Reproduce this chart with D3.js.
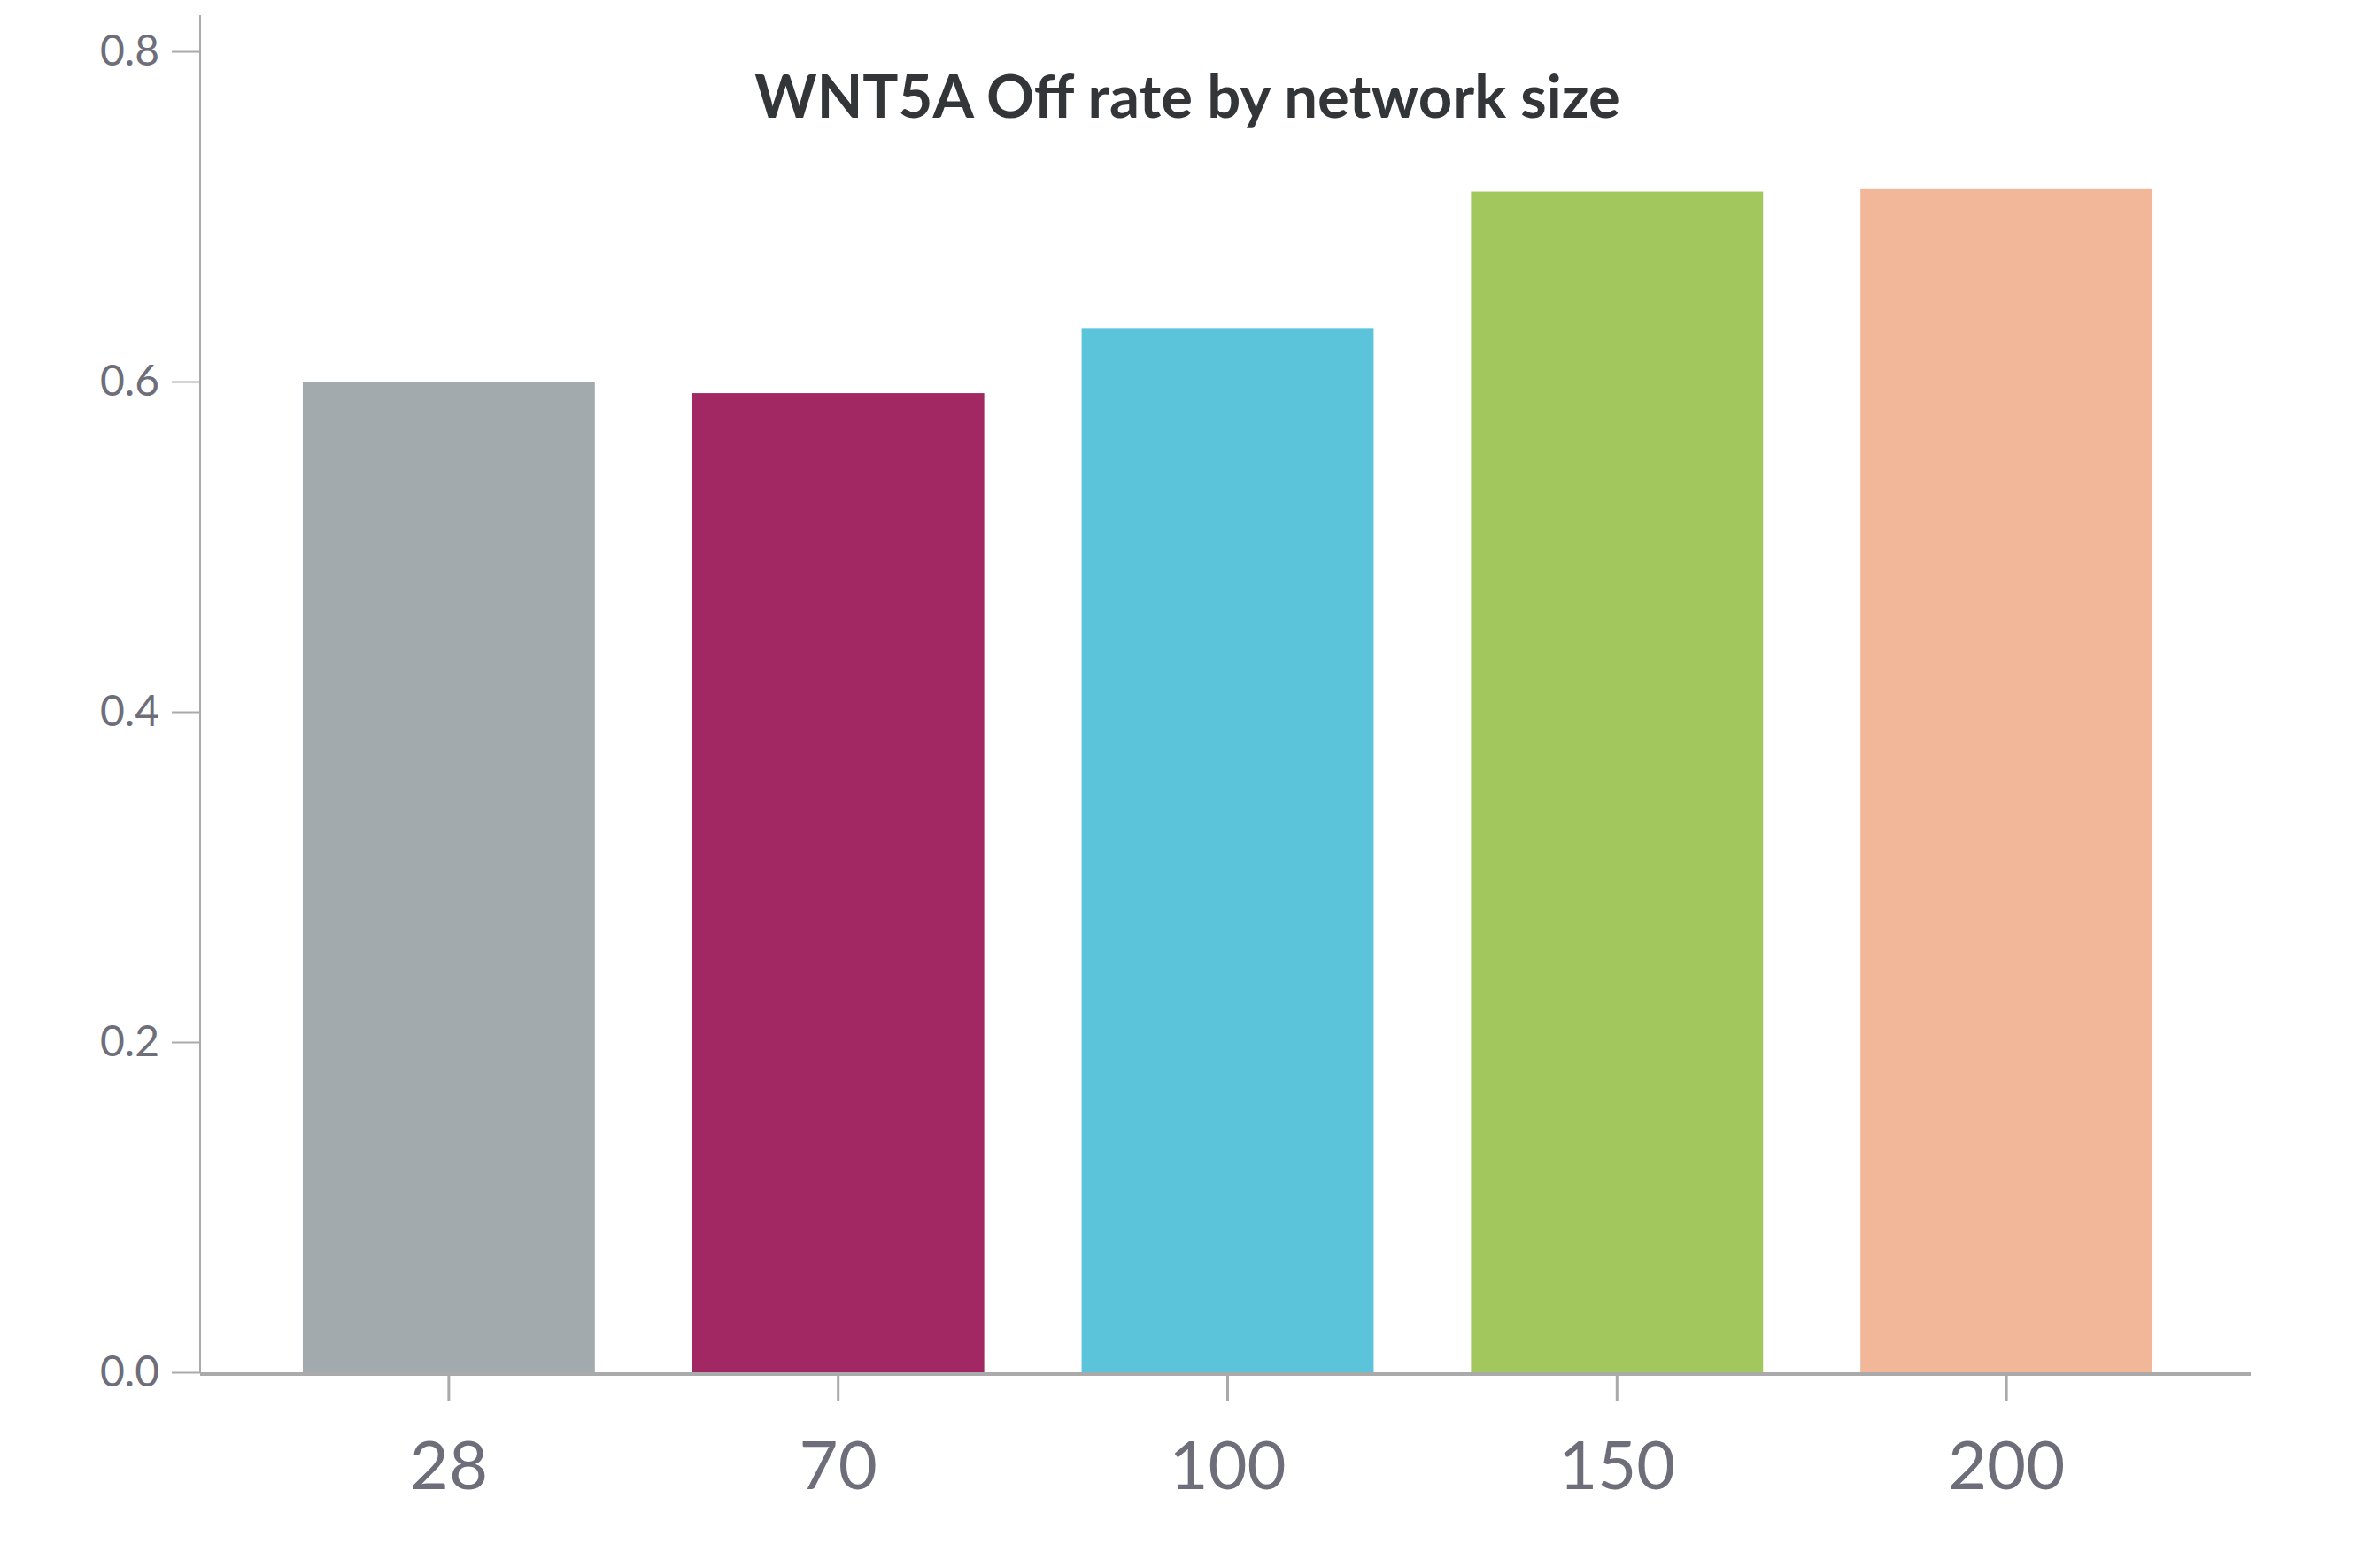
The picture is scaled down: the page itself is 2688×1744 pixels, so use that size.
<!DOCTYPE html>
<html>
<head>
<meta charset="utf-8">
<script src="https://cdn.jsdelivr.net/npm/d3@7"></script>
<style>
  body { margin: 0; background: #fff; }
  text { font-family: Lato, "Open Sans", sans-serif; }
</style>
</head>
<body>
<div id="chart"></div>
<script>
var canvasWidth = 2688;
var canvasHeight = 1744;

// data
var sizes = ["28", "70", "100", "150", "200"];
var offRate = [0.600, 0.593, 0.632, 0.715, 0.717];
var barColors = ["#a2aaad", "#a12862", "#5bc4da", "#a1c75d", "#f1b798"];
var yTicks = [0, 0.2, 0.4, 0.6, 0.8];
var title = "WNT5A Off rate by network size";

var data = sizes.map(function(s, i) { return {size: s, value: offRate[i]}; });

var plotLeft = 226, plotRight = 2542, plotTop = 17, plotBottom = 1550;

var svg = d3.select("#chart")
    .append("svg")
    .attr("width", canvasWidth)
    .attr("height", canvasHeight);

var xScale = d3.scaleBand()
    .domain(sizes)
    .range([232, 2541])
    .paddingInner(0.25)
    .paddingOuter(0.25);

var yScale = d3.scaleLinear()
    .domain([0, 0.822])
    .range([plotBottom, plotTop]);

var color = d3.scaleOrdinal().domain(sizes).range(barColors);

/*bars*/
svg.append("g")
    .selectAll("rect")
    .data(data)
    .join("rect")
    .attr("x", function(d) { return xScale(d.size); })
    .attr("y", function(d) { return yScale(d.value); })
    .attr("width", xScale.bandwidth())
    .attr("height", function(d) { return plotBottom - yScale(d.value); })
    .attr("fill", function(d) { return color(d.size); });

/*Y axis*/
var yAxis = svg.append("g")
    .attr("transform", "translate(" + plotLeft + ",0)")
    .call(d3.axisLeft(yScale).tickValues(yTicks).tickFormat(d3.format(".1f")).tickSize(32).tickPadding(14));
yAxis.select(".domain").attr("stroke", "#aaaaaa").attr("stroke-width", 2)
    .attr("d", "M0," + plotTop + "V" + plotBottom);
yAxis.selectAll(".tick line").attr("stroke", "#aaaaaa").attr("stroke-width", 2);
yAxis.selectAll(".tick text")
    .attr("fill", "#6e6e7a")
    .style("font-size", "48px")
    .style("font-weight", 400);

/*X axis*/
var xAxis = svg.append("g")
    .attr("transform", "translate(0," + plotBottom + ")")
    .call(d3.axisBottom(xScale).tickSize(32).tickPadding(46));
xAxis.select(".domain").attr("stroke", "#aaaaaa").attr("stroke-width", 4)
    .attr("d", "M" + plotLeft + ",2H" + plotRight);
xAxis.selectAll(".tick line").attr("stroke", "#aaaaaa").attr("stroke-width", 3).attr("y1", 4);
xAxis.selectAll(".tick text")
    .attr("fill", "#6e6e7a")
    .style("font-size", "76px")
    .style("font-weight", 400);

/*title*/
svg.append("text")
    .attr("x", 1341)
    .attr("y", 133)
    .attr("text-anchor", "middle")
    .attr("fill", "#333639")
    .style("font-size", "67px")
    .style("font-weight", 700)
    .text(title);
</script>
</body>
</html>
